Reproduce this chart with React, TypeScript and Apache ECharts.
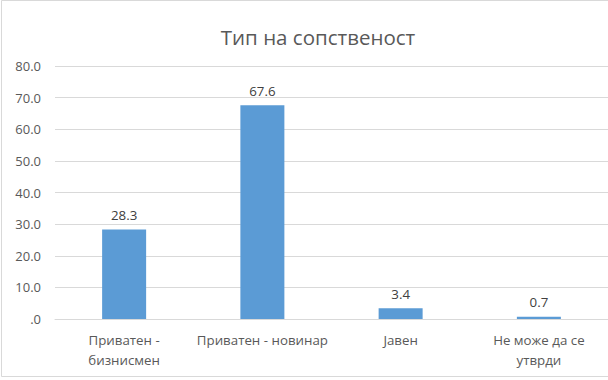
import React, { useEffect, useRef } from "react";
import * as echarts from "echarts";

const categories = ["Приватен -\nбизнисмен", "Приватен - новинар", "Јавен", "Не може да се\nутврди"];
const values = [28.3, 67.6, 3.4, 0.7];
const yTicks = [0, 10, 20, 30, 40, 50, 60, 70, 80];
const title = "Тип на сопственост";

export default function App() {
  const ref = useRef<HTMLDivElement>(null);
  useEffect(() => {
    document.body.style.margin = "0";
    const chart = echarts.init(ref.current!, null, { renderer: "svg" });
    const font = "'Open Sans', 'Liberation Sans', sans-serif";
    chart.setOption({
      animation: false,
      backgroundColor: "#ffffff",
      title: {
        text: title,
        left: 313,
        textAlign: "center",
        top: 21,
        textStyle: { fontFamily: font, fontSize: 20.5, fontWeight: "normal", color: "#595959" },
      },
      graphic: [
        {
          type: "rect",
          shape: { x: 1.5, y: 0.5, width: 620, height: 376 },
          style: { fill: "none", stroke: "#d9d9d9", lineWidth: 1 },
          silent: true,
        },
      ],
      grid: { left: 55, right: -5, top: 66, bottom: 61, containLabel: false },
      xAxis: {
        type: "category",
        data: categories,
        axisTick: { show: false },
        axisLine: { show: true, lineStyle: { color: "#d9d9d9", width: 1 } },
        axisLabel: {
          fontFamily: font,
          fontSize: 13.3,
          color: "#595959",
          margin: 11,
          lineHeight: 20,
          interval: 0,
        },
      },
      yAxis: {
        type: "value",
        min: yTicks[0],
        max: yTicks[yTicks.length - 1],
        interval: 10,
        axisLine: { show: false },
        axisTick: { show: false },
        splitLine: { lineStyle: { color: "#d9d9d9", width: 1 } },
        axisLabel: {
          fontFamily: font,
          fontSize: 13,
          color: "#595959",
          margin: 14,
          formatter: (v: number) => (v === 0 ? ".0" : v.toFixed(1)),
        },
      },
      series: [
        {
          type: "bar",
          data: values,
          barWidth: 44,
          itemStyle: { color: "#5b9bd5" },
          label: {
            show: true,
            position: "top",
            distance: 8,
            fontFamily: font,
            fontSize: 13.3,
            color: "#404040",
            formatter: (p: any) => p.value.toFixed(1),
          },
        },
      ],
    });
    return () => chart.dispose();
  }, []);
  return <div ref={ref} style={{ width: 608, height: 380, position: "absolute", left: 0, top: 0 }} />;
}
